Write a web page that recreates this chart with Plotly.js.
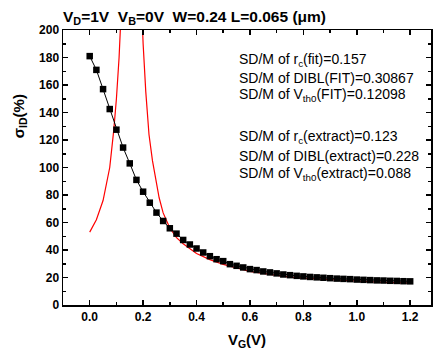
<!DOCTYPE html>
<html><head><meta charset="utf-8">
<script src="https://cdn.plot.ly/plotly-3.0.1.min.js"></script>
<style>html,body{margin:0;padding:0;background:#fff}#c{width:435px;height:358px}</style>
</head><body><div id="c"></div>
<script>
// Measured sigma_ID (%) vs VG (black squares)
const vgMeas = [0,0.025,0.05,0.075,0.1,0.125,0.15,0.175,0.2,0.225,0.25,0.275,0.3,0.325,0.35,0.375,0.4,0.425,0.45,0.475,0.5,0.525,0.55,0.575,0.6,0.625,0.65,0.675,0.7,0.725,0.75,0.775,0.8,0.825,0.85,0.875,0.9,0.925,0.95,0.975,1.0,1.025,1.05,1.075,1.1,1.125,1.15,1.175,1.2];
const sigMeas = [181,171,157,142.5,127.5,114.5,103,91,82.4,74.4,67.2,61.1,55.8,51.9,47.3,44,41.1,38.2,35.5,33.3,31.9,29.7,28.5,27.3,26.1,25.4,24.4,23.7,23,22.2,21.7,21.2,20.8,20.4,20.1,19.8,19.5,19.2,19.0,18.8,18.5,18.3,18.1,17.9,17.8,17.6,17.5,17.3,17.2];
// Model curve (red line), two branches around the peak
const vgModelL = [0,0.025,0.05,0.065,0.075,0.09,0.1,0.11,0.117];
const sigModelL = [53,62,76,90,100,127,150,180,210];
const vgModelR = [0.196,0.2,0.21,0.222,0.235,0.25,0.26,0.275,0.3,0.325,0.35,0.4,0.45,0.5,0.55,0.6,0.65,0.7,0.75,0.8,0.85,0.9,0.95,1.0,1.05,1.1,1.15,1.2];
const sigModelR = [210,190,155,124,105,90,78,67,56,49,44.5,37.5,33,29.5,27,24.5,23,21.5,20.3,19.5,18.9,18.3,17.8,17.4,16.9,16.5,16.2,15.9];
const notes = [
  "SD/M of r<sub>c</sub>(fit)=0.157",
  "SD/M of DIBL(FIT)=0.30867",
  "SD/M of V<sub>th0</sub>(FIT)=0.12098",
  "SD/M of r<sub>c</sub>(extract)=0.123",
  "SD/M of DIBL(extract)=0.228",
  "SD/M of V<sub>th0</sub>(extract)=0.088"
];
const noteY = [178, 165, 152.4, 122.2, 108.2, 95.4];

const F = "Liberation Sans, Arial, sans-serif";
const vgModel = vgModelL.concat([null], vgModelR);
const sigModel = sigModelL.concat([null], sigModelR);

const traces = [
  {x: vgModel, y: sigModel, mode: 'lines', line: {color: '#ff0000', width: 1.2}, connectgaps: false, hoverinfo: 'skip'},
  {x: vgMeas, y: sigMeas, mode: 'lines+markers', line: {color: '#000', width: 1},
   marker: {symbol: 'square', size: 6.5, color: '#000'}}
];

const axisCommon = {
  showgrid: false, zeroline: false, showline: true, linecolor: '#000', linewidth: 1.5,
  mirror: 'ticks', ticks: 'inside', ticklen: 5, tickwidth: 1.5, tickcolor: '#000',
  tickfont: {family: F, size: 12, color: '#000', weight: 'bold'},
  minor: {ticks: 'inside', ticklen: 3, tickwidth: 1.5, tickcolor: '#000'}
};

const ann = notes.map((t, i) => ({
  text: t, x: 0.552, y: noteY[i], xref: 'x', yref: 'y', xanchor: 'left', yanchor: 'middle',
  showarrow: false, font: {family: F, size: 14, color: '#000'}
}));
ann.push({
  text: "σ<sub>ID</sub>(%)", textangle: -90, xref: 'paper', yref: 'y',
  x: -0.118, y: 137, xanchor: 'center', yanchor: 'middle', showarrow: false,
  font: {family: F, size: 15, color: '#000', weight: 'bold'}
});

const layout = {
  width: 435, height: 358,
  margin: {l: 63, r: 4, t: 30, b: 53},
  paper_bgcolor: '#fff', plot_bgcolor: '#fff',
  showlegend: false,
  title: {text: "V<sub>D</sub>=1V&nbsp;&nbsp;V<sub>B</sub>=0V&nbsp;&nbsp;W=0.24 L=0.065 (μm)",
    font: {family: F, size: 15.5, color: '#000', weight: 'bold'},
    x: 63/435, xanchor: 'left', y: 0.955, yanchor: 'middle'},
  xaxis: Object.assign({}, axisCommon, {
    range: [-0.1, 1.278], tickvals: [0,0.2,0.4,0.6,0.8,1.0,1.2],
    ticktext: ['0.0','0.2','0.4','0.6','0.8','1.0','1.2'],
    minor: Object.assign({}, axisCommon.minor, {dtick: 0.1, tick0: 0}),
    title: {text: "V<sub>G</sub>(V)", font: {family: F, size: 15, color: '#000', weight: 'bold'}, standoff: 11}
  }),
  yaxis: Object.assign({}, axisCommon, {
    range: [0, 200], dtick: 20, tick0: 0,
    minor: Object.assign({}, axisCommon.minor, {dtick: 10})
  }),
  annotations: ann
};

Plotly.newPlot('c', traces, layout, {staticPlot: true, displayModeBar: false});
</script></body></html>
